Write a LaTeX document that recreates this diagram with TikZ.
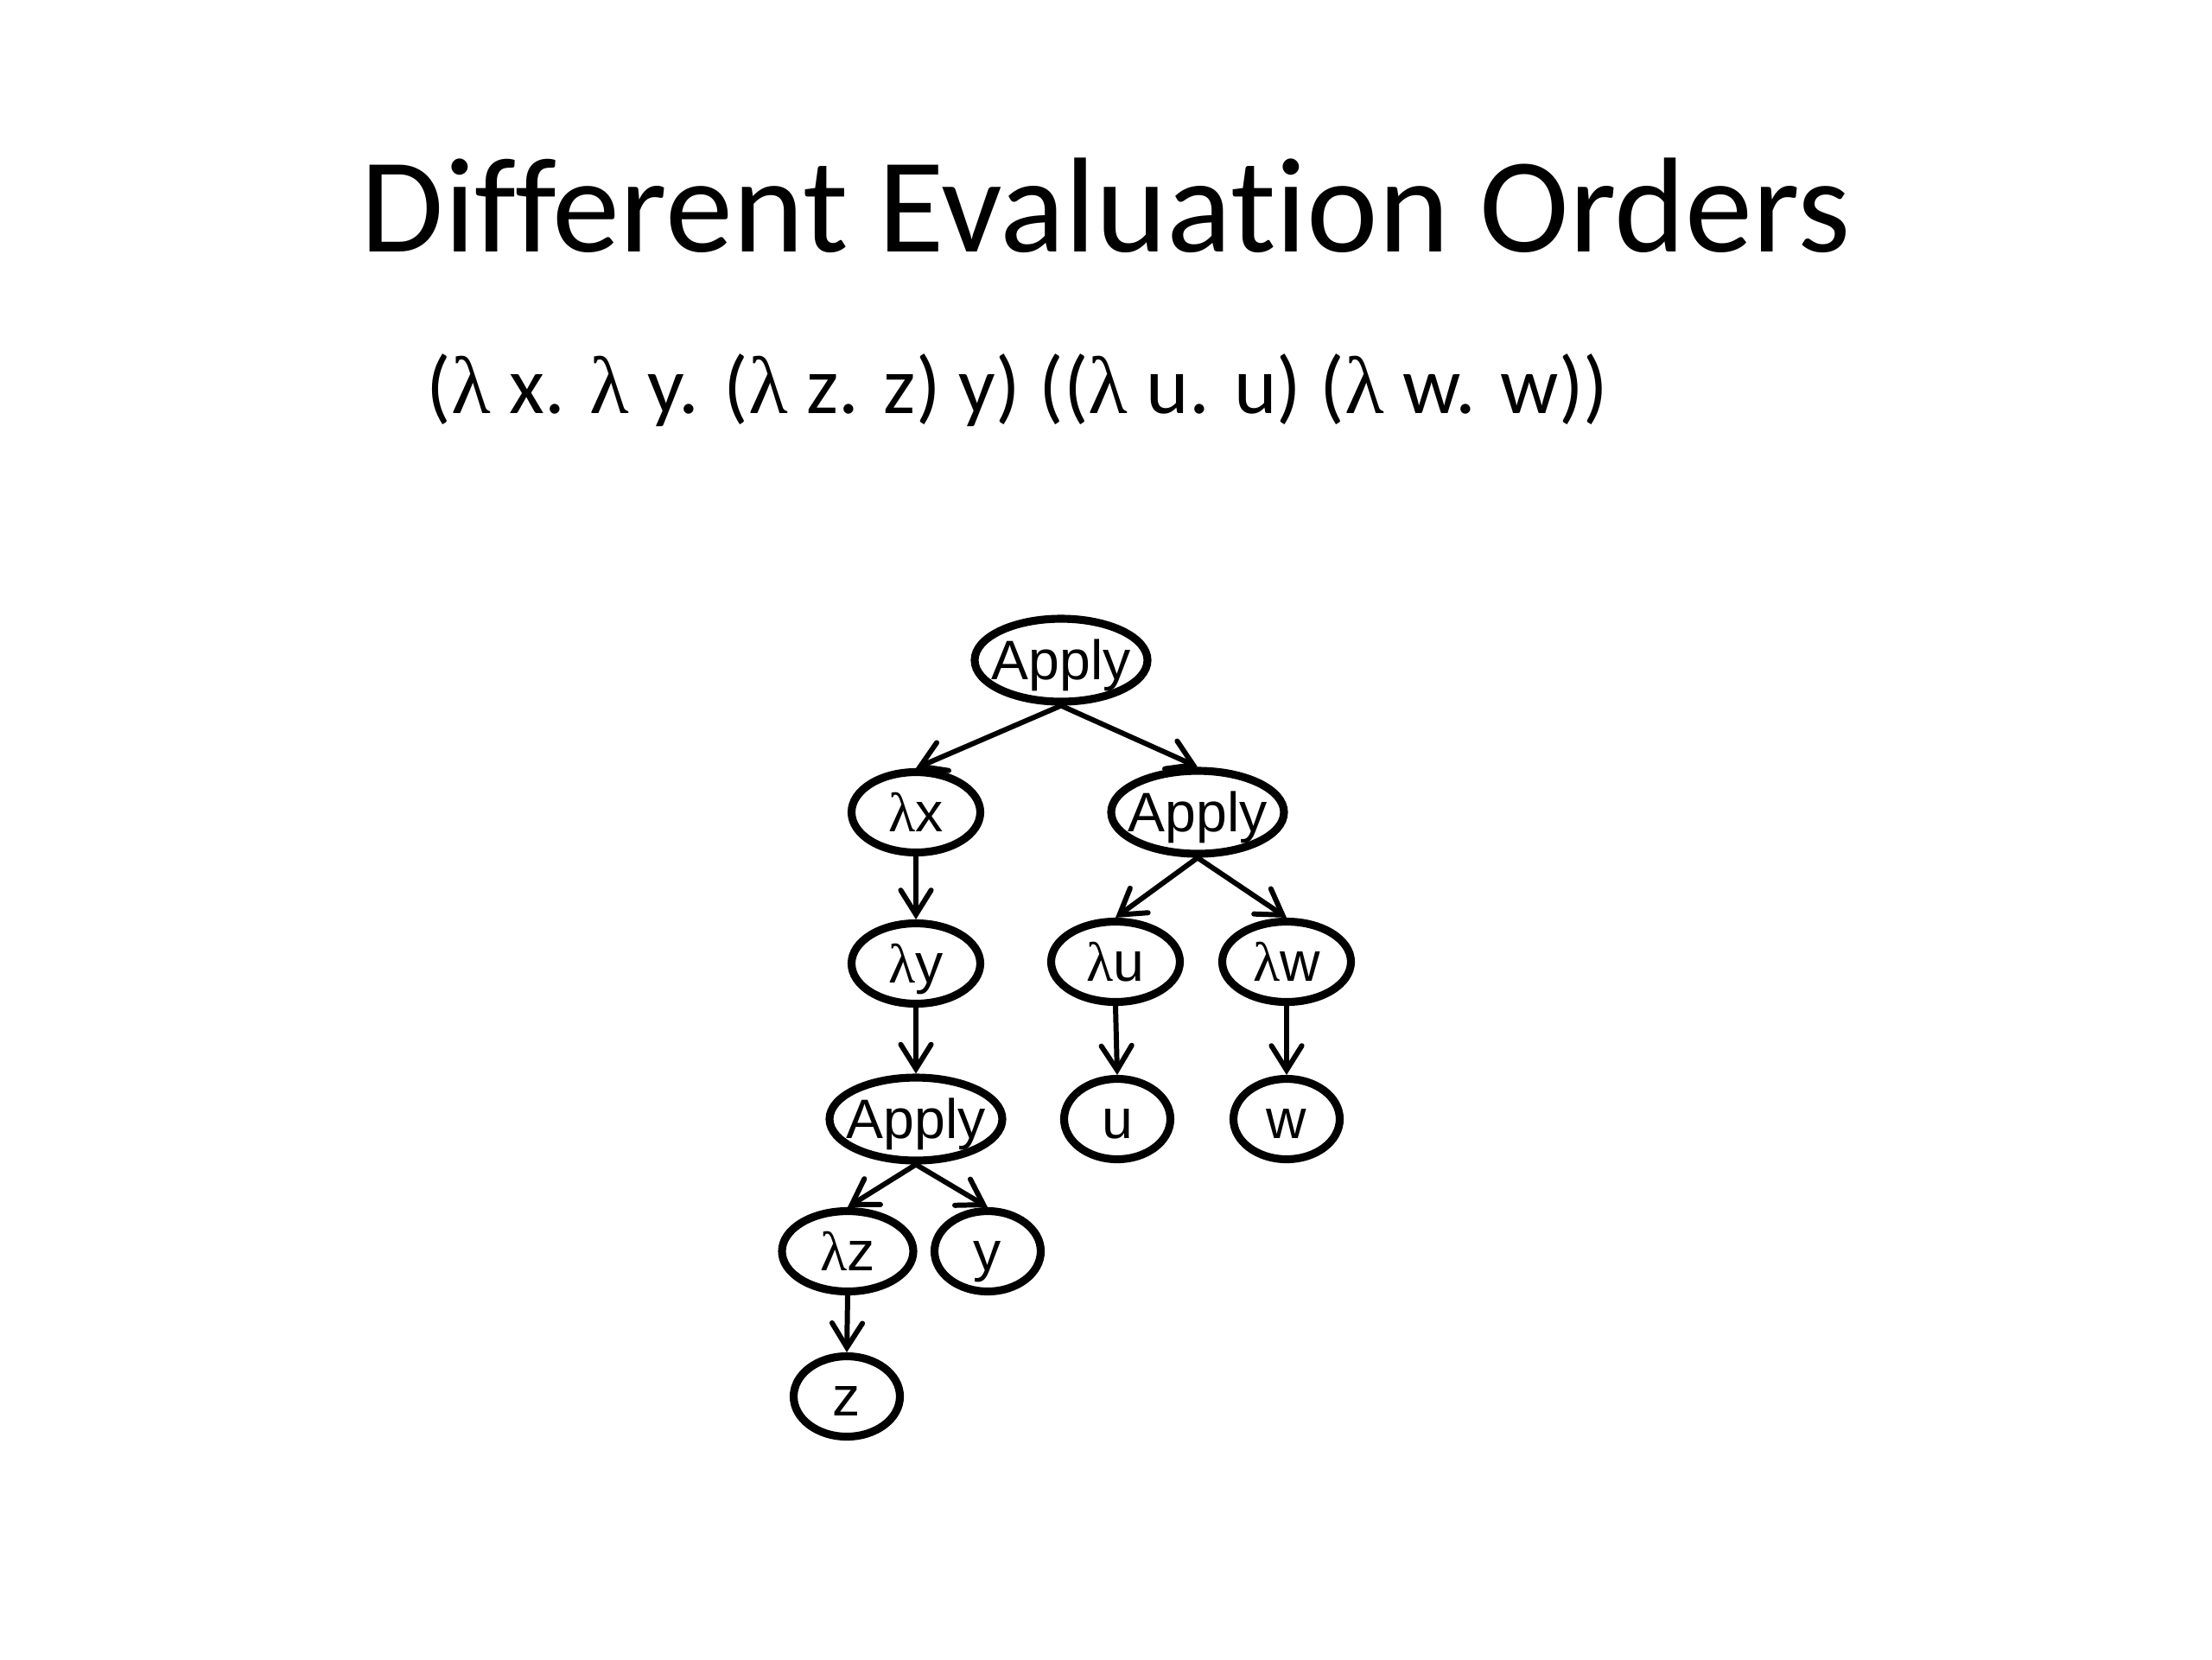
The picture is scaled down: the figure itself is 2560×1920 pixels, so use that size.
\documentclass[tikz,border=0pt]{standalone}
\usepackage{fontspec}
\setmainfont{Carlito}[Ligatures={NoCommon}]
\newfontfamily\nodefont{Liberation Sans}
\newfontfamily\lamfont{Liberation Serif}
\usetikzlibrary{shapes.geometric,arrows.meta}
\newcommand{\nt}[1]{\makebox[0pt]{#1}}
\begin{document}
\begin{tikzpicture}[x=0.01cm,y=-0.01cm,
  tn/.style={draw,ellipse,line width=2.6pt,inner sep=0pt,text height=13pt,text depth=0pt,
    font=\nodefont\fontsize{18.3}{20}\selectfont},
  wide/.style={tn,minimum width=200\pxu,minimum height=96\pxu},
  mid/.style={tn,minimum width=149\pxu,minimum height=93\pxu},
  small/.style={tn,minimum width=123\pxu,minimum height=93\pxu},
  edge/.style={line width=1.7pt,-{Straight Barb[length=8pt,width=10pt,line width=1.7pt,line cap=round]}}
]
\def\pxu{*0.01cm}
\useasboundingbox (0,0) rectangle (2560,1920);
\fill[white] (0,0) rectangle (2560,1920);
\node[anchor=base,font=\fontsize{44.5}{50}\selectfont] (title) at (1280,291) {Different Evaluation Orders};
\node[anchor=base west,inner sep=0pt,font=\fontsize{26.8}{32}\selectfont] (expr) at (493,478)
  {({\lamfont λ} x. {\lamfont λ} y. ({\lamfont λ} z. z) y) (({\lamfont λ} u. u) ({\lamfont λ} w. w))};
\node[wide] (a1) at (1228,764) {\nt{Apply}};
\node[mid] (lx) at (1060,940) {\nt{{\lamfont λ}x}};
\node[wide] (a2) at (1386,940) {\nt{Apply}};
\node[mid] (ly) at (1060,1115) {\nt{{\lamfont λ}y}};
\node[mid] (lu) at (1291,1113) {\nt{{\lamfont λ}u}};
\node[mid] (lw) at (1489,1113) {\nt{{\lamfont λ}w}};
\node[wide] (a3) at (1060,1295) {\nt{Apply}};
\node[small] (u) at (1293,1295) {\nt{u}};
\node[small] (w) at (1489,1295) {\nt{w}};
\node[mid,minimum width=152\pxu] (lz) at (981,1448) {\nt{{\lamfont λ}z}};
\node[small] (y) at (1143,1448) {\nt{y}};
\node[small] (z) at (980,1616) {\nt{z}};
\draw[edge] (a1.south) -- (lx.north);
\draw[edge] (a1.south) -- (a2.north);
\draw[edge] (lx.south) -- (ly.north);
\draw[edge] (a2.south) -- (lu.north);
\draw[edge] (a2.south) -- (lw.north);
\draw[edge] (ly.south) -- (a3.north);
\draw[edge] (lu.south) -- (u.north);
\draw[edge] (lw.south) -- (w.north);
\draw[edge] (a3.south) -- (lz.north);
\draw[edge] (a3.south) -- (y.north);
\draw[edge] (lz.south) -- (z.north);
\end{tikzpicture}
\end{document}
